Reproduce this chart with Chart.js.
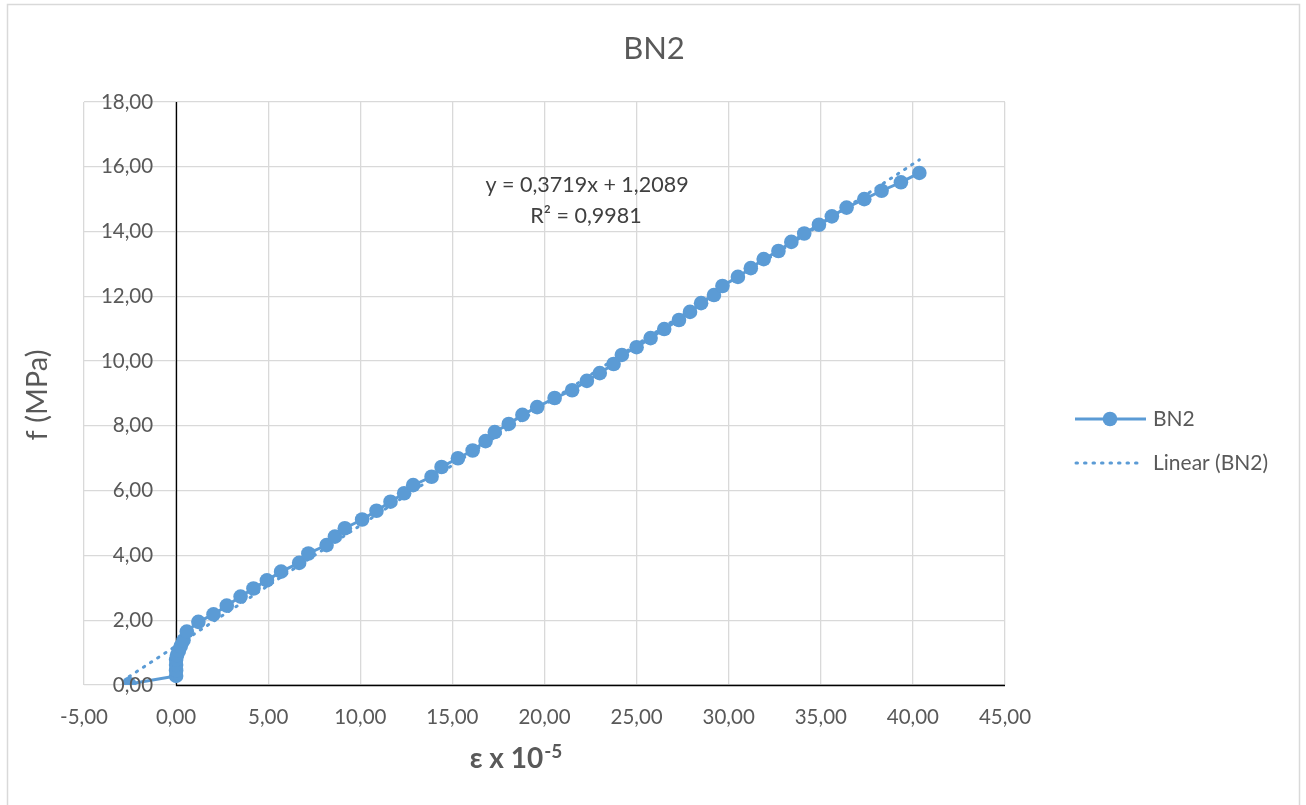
<!DOCTYPE html>
<html>
<head>
<meta charset="utf-8">
<script src="https://cdn.jsdelivr.net/npm/chart.js@4/dist/chart.umd.min.js"></script>
<style>
  html, body { margin: 0; padding: 0; background: #ffffff; }
  #wrap { position: relative; width: 1306px; height: 805px; }
  canvas { display: block; }
</style>
</head>
<body>
<div id="wrap"><canvas id="c" width="1306" height="805"></canvas></div>
<script>
// Strain (ε x 10^-5) and stress f (MPa) for specimen BN2
const strain = [
  -2.55, 0.00, 0.00, 0.00, 0.00, 0.05, 0.15, 0.25, 0.40, 0.58,
  1.21, 2.03, 2.75, 3.50, 4.20, 4.93, 5.70, 6.68, 7.18, 8.17,
  8.62, 9.16, 10.10, 10.88, 11.64, 12.38, 12.87, 13.87, 14.41, 15.30,
  16.10, 16.80, 17.30, 18.06, 18.80, 19.60, 20.55, 21.50, 22.30, 23.00,
  23.75, 24.20, 25.00, 25.76, 26.50, 27.30, 27.90, 28.50, 29.20, 29.66,
  30.50, 31.20, 31.90, 32.70, 33.40, 34.10, 34.90, 35.60, 36.40, 37.36,
  38.30, 39.35, 40.35
];
const stress = [
  0.03, 0.28, 0.45, 0.62, 0.78, 0.92, 1.06, 1.20, 1.38, 1.65,
  1.95, 2.18, 2.45, 2.73, 2.98, 3.23, 3.50, 3.77, 4.06, 4.32,
  4.58, 4.84, 5.11, 5.38, 5.66, 5.92, 6.17, 6.43, 6.73, 7.00,
  7.24, 7.53, 7.81, 8.06, 8.34, 8.58, 8.86, 9.10, 9.39, 9.63,
  9.91, 10.19, 10.43, 10.71, 10.99, 11.27, 11.52, 11.79, 12.04, 12.32,
  12.60, 12.87, 13.15, 13.40, 13.68, 13.94, 14.21, 14.47, 14.74, 15.00,
  15.26, 15.52, 15.81
];

// Linear trendline y = 0.3719x + 1.2089 over the measured strain range
const trendSlope = 0.3719;
const trendIntercept = 1.2089;
const trendX = [-2.55, 40.35];
const trendY = trendX.map(x => trendSlope * x + trendIntercept);

const xTicks = [-5, 0, 5, 10, 15, 20, 25, 30, 35, 40, 45];
const yTicks = [0, 2, 4, 6, 8, 10, 12, 14, 16, 18];

const seriesName = 'BN2';
const trendName = 'Linear (BN2)';
const equationText = 'y = 0,3719x + 1,2089';
const r2Value = '0,9981';

const BLUE = '#5b9bd5';
const TEXT = '#595959';
const GRID = '#d9d9d9';
const FONT = 'Lato, "Open Sans", "Liberation Sans", sans-serif';
const DOTS = [1.5, 7];

const fmt = v => v.toFixed(2).replace('.', ',');

const decor = {
  id: 'decor',
  beforeDraw(chart) {
    const ctx = chart.ctx;
    ctx.save();
    ctx.fillStyle = '#ffffff';
    ctx.fillRect(0, 0, chart.width, chart.height);
    // outer chart border
    ctx.strokeStyle = '#d9d9d9';
    ctx.lineWidth = 1.5;
    ctx.strokeRect(7.5, 4.5, 1292, 810);
    ctx.restore();
  },
  beforeDatasetsDraw(chart) {
    const ctx = chart.ctx;
    const xs = chart.scales.x, ys = chart.scales.y;
    const x0 = Math.round(xs.getPixelForValue(0)) + 0.5;
    const y0 = Math.round(ys.getPixelForValue(0)) + 0.5;
    ctx.save();
    ctx.strokeStyle = '#000000';
    ctx.lineWidth = 1.3;
    ctx.beginPath();
    ctx.moveTo(x0, ys.getPixelForValue(18));
    ctx.lineTo(x0, y0);
    ctx.lineTo(xs.getPixelForValue(45), y0);
    ctx.stroke();
    ctx.restore();
  },
  afterDatasetsDraw(chart) {
    const ctx = chart.ctx;
    const xs = chart.scales.x, ys = chart.scales.y;
    const x0 = xs.getPixelForValue(0);
    const y0 = ys.getPixelForValue(0);
    ctx.save();
    ctx.fillStyle = TEXT;
    ctx.font = '20.5px ' + FONT;
    // y tick labels next to the vertical axis (crosses at x = 0)
    ctx.textAlign = 'right';
    ctx.textBaseline = 'middle';
    yTicks.forEach(v => ctx.fillText(fmt(v), x0 - 23, ys.getPixelForValue(v)));
    // x tick labels under the horizontal axis
    ctx.textAlign = 'center';
    xTicks.forEach(v => ctx.fillText(fmt(v), xs.getPixelForValue(v), y0 + 32));

    // chart title
    ctx.textBaseline = 'alphabetic';
    ctx.font = '31px ' + FONT;
    ctx.fillText(seriesName, 654, 59);

    // y axis title
    ctx.save();
    ctx.translate(38, 395);
    ctx.rotate(-Math.PI / 2);
    ctx.textBaseline = 'middle';
    ctx.font = '29px ' + FONT;
    ctx.fillText('f (MPa)', 0, 0);
    ctx.restore();

    // x axis title with superscript exponent
    const base = 'ε x 10';
    ctx.font = 'bold 28px ' + FONT;
    const wBase = ctx.measureText(base).width;
    ctx.font = 'bold 19px ' + FONT;
    const wSup = ctx.measureText('-5').width;
    const startX = 516 - (wBase + wSup + 1) / 2;
    ctx.textAlign = 'left';
    ctx.font = 'bold 28px ' + FONT;
    ctx.fillText(base, startX, 768);
    ctx.font = 'bold 19px ' + FONT;
    ctx.fillText('-5', startX + wBase + 1, 758);

    // trendline equation
    ctx.fillStyle = '#404040';
    ctx.font = '21.5px ' + FONT;
    ctx.textAlign = 'center';
    ctx.fillText(equationText, 587, 192);
    ctx.fillText('R² = ' + r2Value, 586, 223);

    // legend
    ctx.textAlign = 'left';
    ctx.strokeStyle = BLUE;
    ctx.lineWidth = 3;
    ctx.beginPath();
    ctx.moveTo(1075, 419);
    ctx.lineTo(1146, 419);
    ctx.stroke();
    ctx.fillStyle = BLUE;
    ctx.beginPath();
    ctx.arc(1110, 419, 7.3, 0, Math.PI * 2);
    ctx.fill();
    ctx.lineWidth = 3;
    ctx.setLineDash(DOTS);
    ctx.lineCap = 'round';
    ctx.beginPath();
    ctx.moveTo(1076, 463);
    ctx.lineTo(1142, 463);
    ctx.stroke();
    ctx.setLineDash([]);
    ctx.fillStyle = TEXT;
    ctx.font = '21px ' + FONT;
    ctx.fillText(seriesName, 1153, 426);
    ctx.fillText(trendName, 1153, 470);
    ctx.restore();
  }
};

new Chart(document.getElementById('c'), {
  type: 'scatter',
  data: {
    datasets: [
      {
        label: trendName,
        data: trendX.map((x, i) => ({ x, y: trendY[i] })),
        showLine: true,
        borderColor: BLUE,
        borderWidth: 3,
        borderDash: DOTS,
        borderCapStyle: 'round',
        pointRadius: 0,
        order: 2
      },
      {
        label: seriesName,
        data: strain.map((x, i) => ({ x, y: stress[i] })),
        showLine: true,
        borderColor: BLUE,
        borderWidth: 3,
        backgroundColor: BLUE,
        pointBackgroundColor: BLUE,
        pointBorderColor: BLUE,
        pointBorderWidth: 0,
        pointRadius: 7.3,
        order: 1
      }
    ]
  },
  options: {
    responsive: false,
    animation: false,
    devicePixelRatio: 1,
    layout: { padding: { top: 102, right: 301, bottom: 0, left: 0 } },
    plugins: {
      legend: { display: false },
      title: { display: false },
      tooltip: { enabled: false }
    },
    scales: {
      x: {
        type: 'linear',
        min: -5, max: 45,
        afterBuildTicks(scale) { scale.ticks = xTicks.map(v => ({ value: v })); },
        afterFit(scale) { scale.height = 120; },
        ticks: { display: false },
        grid: { color: GRID, lineWidth: 1.3, drawTicks: false },
        border: { display: false }
      },
      y: {
        type: 'linear',
        min: 0, max: 18,
        afterBuildTicks(scale) { scale.ticks = yTicks.map(v => ({ value: v })); },
        afterFit(scale) { scale.width = 84; },
        ticks: { display: false },
        grid: { color: GRID, lineWidth: 1.3, drawTicks: false },
        border: { display: false }
      }
    }
  },
  plugins: [decor]
});
</script>
</body>
</html>
